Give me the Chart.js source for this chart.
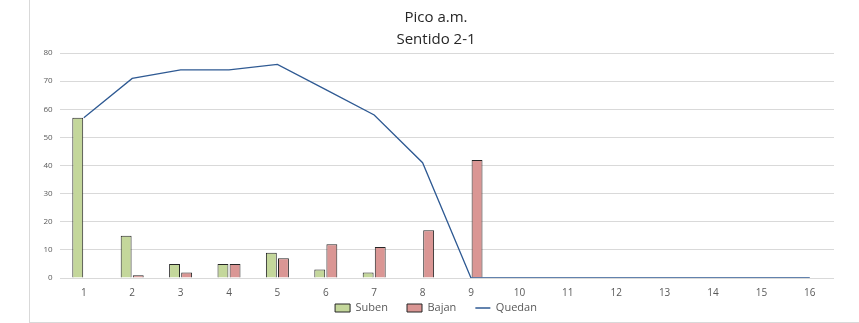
<!DOCTYPE html>
<html>
<head>
<meta charset="utf-8">
<script src="https://cdn.jsdelivr.net/npm/chart.js@4"></script>
<style>
	body { margin: 0; background: #fff; }
	#marco {
		position: absolute;
		left: 29px;
		top: 0;
		width: 829px;
		height: 322px;
		border-left: 1px solid #d9d9d9;
		border-bottom: 1px solid #d9d9d9;
	}
</style>
</head>
<body>
<div id="marco"><canvas id="grafico" width="829" height="322"></canvas></div>
<script>
	// Paradas
	const paradas = ['1', '2', '3', '4', '5', '6', '7', '8', '9', '10', '11', '12', '13', '14', '15', '16'];

	// Pasajeros por parada
	const suben = [57, 15, 5, 5, 9, 3, 2, 0, 0, 0, 0, 0, 0, 0, 0, 0];
	const bajan = [0, 1, 2, 5, 7, 12, 11, 17, 42, 0, 0, 0, 0, 0, 0, 0];
	const quedan = [57, 71, 74, 74, 76, 67, 58, 41, 0, 0, 0, 0, 0, 0, 0, 0];

	const ticksY = [0, 10, 20, 30, 40, 50, 60, 70, 80];

	const fuente = "'Open Sans', 'Liberation Sans', sans-serif";
	const gris = '#595959';

	// la leyenda lleva mucho padding (separa los items), la dejamos pegada abajo
	const moverLeyenda = {
		id: 'moverLeyenda',
		afterLayout: (chart) => {
			const leyenda = chart.legend;
			if (leyenda) {
				leyenda.top = chart.height - 38.5;
				leyenda.bottom = chart.height;
			}
		}
	};

	const ctx = document.getElementById('grafico');
	// eslint-disable-next-line no-unused-vars
	const grafico = new Chart(ctx, {
		type: 'bar',
		data: {
			labels: paradas,
			datasets: [{
				label: 'Suben',
				data: suben,
				backgroundColor: '#c4d79b',
				borderColor: '#262626',
				borderWidth: 1,
				pointStyle: 'rect',
				order: 1
			}, {
				label: 'Bajan',
				data: bajan,
				backgroundColor: '#da9694',
				borderColor: '#262626',
				borderWidth: 1,
				pointStyle: 'rect',
				order: 1
			}, {
				type: 'line',
				label: 'Quedan',
				data: quedan,
				borderColor: '#2f5a93',
				backgroundColor: '#2f5a93',
				borderWidth: 1.3,
				tension: 0,
				pointRadius: 0,
				pointStyle: 'line',
				order: 0
			}]
		},
		plugins: [moverLeyenda],
		options: {
			responsive: false,
			animation: false,
			devicePixelRatio: 1,
			layout: {
				padding: { left: 8, right: 25, top: 0, bottom: -10 }
			},
			datasets: {
				bar: {
					categoryPercentage: 0.5,
					barPercentage: 0.9
				}
			},
			scales: {
				x: {
					grid: { display: false, drawTicks: false },
					border: { display: false },
					ticks: {
						color: gris,
						font: { family: fuente, size: 10 },
						padding: 9,
						maxRotation: 0,
						autoSkip: false
					}
				},
				y: {
					min: 0,
					max: 80,
					afterBuildTicks: (escala) => {
						escala.ticks = ticksY.map((v) => ({ value: v }));
					},
					grid: {
						color: '#d9d9d9',
						drawTicks: false
					},
					border: { display: false },
					ticks: {
						color: gris,
						font: { family: fuente, size: 8 },
						padding: 7
					},
					afterFit: (escala) => { escala.width = 21.6; }
				}
			},
			plugins: {
				title: {
					display: true,
					text: ['Pico a.m.', 'Sentido 2-1'],
					color: '#262626',
					font: { family: fuente, size: 15, weight: 'normal', lineHeight: 1.47 },
					padding: { top: 7, bottom: 2 }
				},
				legend: {
					position: 'bottom',
					maxHeight: 24,
					labels: {
						color: gris,
						font: { family: fuente, size: 11 },
						usePointStyle: true,
						pointStyleWidth: 15,
						boxHeight: 8,
						padding: 19,
						sort: (a, b) => a.datasetIndex - b.datasetIndex
					}
				},
				tooltip: { enabled: false }
			}
		}
	})
</script>
</body>
</html>
